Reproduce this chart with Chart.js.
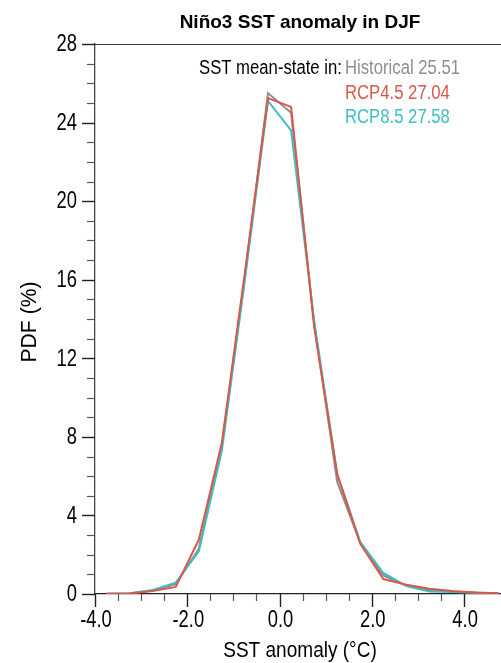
<!DOCTYPE html>
<html>
<head>
<meta charset="utf-8">
<script src="https://cdn.jsdelivr.net/npm/chart.js@4"></script>
<style>
html,body{margin:0;padding:0;background:#fff;}
canvas{display:block;}
</style>
</head>
<body>
<canvas id="c" width="501" height="663"></canvas>
<script>
// ---- data ----
const binCenters = [-3.75,-3.25,-2.75,-2.25,-1.75,-1.25,-0.75,-0.25,0.25,0.75,1.25,1.75,2.25,2.75,3.25,3.75,4.25,4.75];
const historical = [0.01,0.03,0.18,0.50,2.30,7.50,16.2,25.50,24.50,13.8,5.70,2.60,0.95,0.42,0.20,0.12,0.07,0.03];
const rcp45      = [0.01,0.03,0.15,0.36,2.76,7.70,16.4,25.25,24.80,13.6,6.10,2.55,0.76,0.47,0.27,0.15,0.08,0.04];
const rcp85      = [0.01,0.04,0.20,0.58,2.17,7.30,16.0,25.10,23.60,13.9,6.10,2.65,1.07,0.40,0.13,0.10,0.06,0.03];
const seriesNames = ['Historical','RCP4.5','RCP8.5'];
const meanState = ['25.51','27.04','27.58'];
const colors = ['#8e8e8e','#d9584a','#3dbfc2'];
const titleText = 'Niño3 SST anomaly in DJF';
const annotLead = 'SST mean-state in:';
const xTitle = 'SST anomaly (°C)';
const yTitle = 'PDF (%)';

const REG = '"Liberation Sans", Arial, sans-serif';

const pts = arr => binCenters.map((x,i)=>({x:x, y:arr[i]}));

function condText(ctx, txt, x, y, sx, align, baseline){
  ctx.save();
  ctx.translate(x, y);
  ctx.scale(sx, 1);
  ctx.textAlign = align;
  ctx.textBaseline = baseline || 'alphabetic';
  ctx.fillText(txt, 0, 0);
  ctx.restore();
}

const decor = {
  id:'decor',
  afterDraw(chart){
    const {ctx, chartArea:a, scales:{x,y}} = chart;
    ctx.save();
    // top frame line
    ctx.strokeStyle = '#333'; ctx.lineWidth = 1.2;
    ctx.beginPath(); ctx.moveTo(a.left, a.top+0.5); ctx.lineTo(chart.width, a.top+0.5); ctx.stroke();
    // y ticks + labels
    ctx.font = '23px ' + REG;
    y.ticks.forEach(t=>{
      const yy = y.getPixelForValue(t.value);
      const py = Math.round(yy)+0.5;
      const major = Math.abs(t.value % 4) < 1e-6;
      ctx.strokeStyle = major ? '#222' : '#555';
      ctx.lineWidth = major ? 1.4 : 1.2;
      ctx.beginPath(); ctx.moveTo(a.left-(major?13:8), py); ctx.lineTo(a.left, py); ctx.stroke();
      if (major){
        ctx.fillStyle = '#000';
        condText(ctx, String(t.value), 77, yy+1, 0.8, 'right', 'middle');
      }
    });
    // x ticks + labels
    x.ticks.forEach(t=>{
      const xx = x.getPixelForValue(t.value);
      const px = Math.round(xx)+0.5;
      const major = Math.abs(t.value % 2) < 1e-6;
      ctx.strokeStyle = major ? '#222' : '#555';
      ctx.lineWidth = major ? 1.4 : 1.2;
      ctx.beginPath(); ctx.moveTo(px, a.bottom); ctx.lineTo(px, a.bottom+(major?13:7)); ctx.stroke();
      if (major){
        ctx.fillStyle = '#000';
        condText(ctx, (t.value===0?0:t.value).toFixed(1), xx+1, 621, 0.8, 'center', 'middle');
      }
    });
    // title
    ctx.fillStyle = '#000';
    ctx.font = 'bold 19px ' + REG;
    ctx.textAlign = 'center'; ctx.textBaseline = 'alphabetic';
    ctx.fillText(titleText, 300, 28);
    // annotation
    ctx.font = '20px ' + REG;
    ctx.fillStyle = '#000';
    condText(ctx, annotLead, 199, 74, 0.835, 'left');
    const lx = 345;
    const baselines = [74, 99, 123];
    seriesNames.forEach((n,i)=>{
      ctx.fillStyle = colors[i];
      condText(ctx, n + ' ' + meanState[i], lx, baselines[i], 0.835, 'left');
    });
    // axis titles
    ctx.fillStyle = '#000';
    ctx.font = '22px ' + REG;
    condText(ctx, xTitle, 300, 657, 0.865, 'center');
    ctx.save();
    ctx.translate(30, 322);
    ctx.rotate(-Math.PI/2);
    ctx.scale(0.96, 1);
    ctx.textAlign = 'center';
    ctx.textBaseline = 'middle';
    ctx.fillText(yTitle, 0, 0);
    ctx.restore();
    ctx.restore();
  }
};

new Chart(document.getElementById('c'), {
  type:'line',
  data:{
    datasets:[
      {label:seriesNames[1], data:pts(rcp45), borderColor:colors[1], order:1},
      {label:seriesNames[2], data:pts(rcp85), borderColor:colors[2], order:2},
      {label:seriesNames[0], data:pts(historical), borderColor:colors[0], order:3}
    ].map(d=>Object.assign(d,{borderWidth:2, pointRadius:0, tension:0, fill:false}))
  },
  options:{
    responsive:false,
    animation:false,
    devicePixelRatio:1,
    layout:{padding:{left:0, right:0, top:44, bottom:0}},
    plugins:{legend:{display:false}, tooltip:{enabled:false}, title:{display:false}},
    scales:{
      x:{
        type:'linear', min:-4, max:4.8,
        afterFit(s){ s.height = 69; },
        afterBuildTicks(s){ s.ticks = s.ticks.filter(t=>Math.abs(t.value*2-Math.round(t.value*2))<1e-6); },
        grid:{display:false},
        border:{display:true, color:'#222', width:1.3},
        ticks:{display:false, stepSize:0.5, autoSkip:false, maxRotation:0}
      },
      y:{
        min:0, max:28,
        afterFit(s){ s.width = 95; },
        grid:{display:false},
        border:{display:true, color:'#444', width:1.3},
        ticks:{display:false, stepSize:1, autoSkip:false}
      }
    }
  },
  plugins:[decor]
});
</script>
</body>
</html>
